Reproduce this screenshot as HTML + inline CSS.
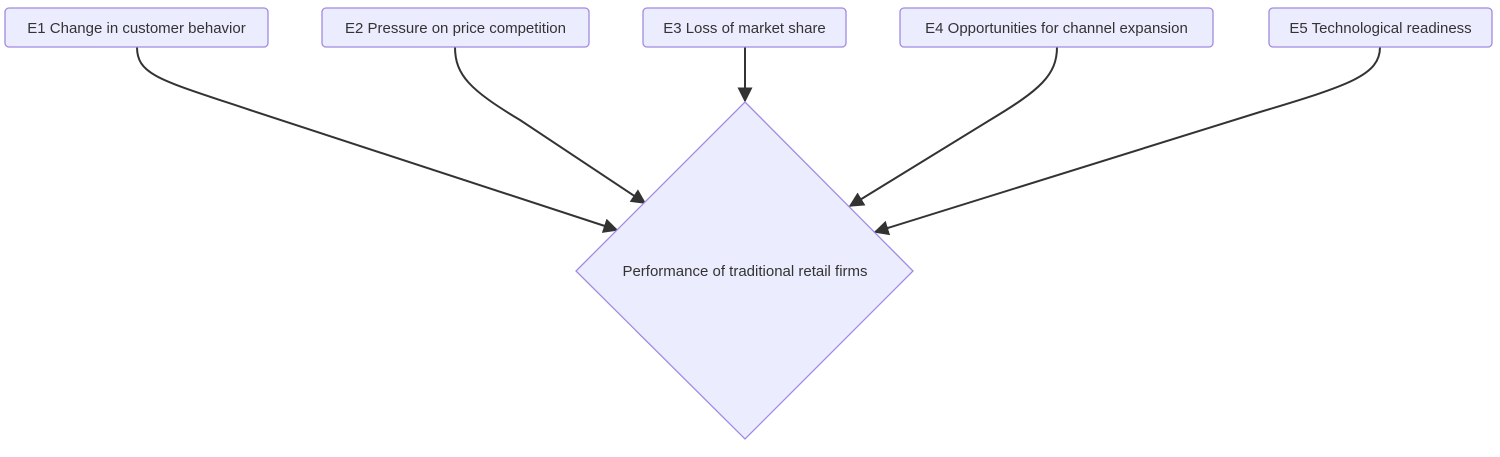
<!DOCTYPE html>
<html><head><meta charset="utf-8"><style>
html,body{margin:0;padding:0;background:#fff;width:1500px;height:457px;overflow:hidden}
svg{display:block}
text{font-family:"Liberation Sans",sans-serif;font-size:15px;fill:#333}
.n{fill:#ECECFF;stroke:#A08BE0;stroke-width:1.3}
.e{fill:none;stroke:#333;stroke-width:2}
</style></head><body>
<svg width="1500" height="457" viewBox="0 0 1500 457" xmlns="http://www.w3.org/2000/svg">
<defs><marker id="a" viewBox="0 0 10 10" refX="9" refY="5" markerWidth="15" markerHeight="15" markerUnits="userSpaceOnUse" orient="auto"><path d="M0,0 L10,5 L0,10 z" fill="#333"/></marker></defs>
<path class="e" d="M137,47 C137,75 160,80 250,110 L617,230" marker-end="url(#a)"/>
<path class="e" d="M455,47 C455,75 470,90 520,120 L645,203" marker-end="url(#a)"/>
<path class="e" d="M745,47 L745,101" marker-end="url(#a)"/>
<path class="e" d="M1057,47 C1057,75 1040,90 990,120 L850,206" marker-end="url(#a)"/>
<path class="e" d="M1380,47 C1380,75 1350,85 1260,112 L875,232" marker-end="url(#a)"/>
<rect class="n" x="5" y="8" width="263" height="39" rx="4"/>
<text x="136.5" y="33" text-anchor="middle">E1 Change in customer behavior</text>
<rect class="n" x="322" y="8" width="267" height="39" rx="4"/>
<text x="455.5" y="33" text-anchor="middle">E2 Pressure on price competition</text>
<rect class="n" x="643" y="8" width="203" height="39" rx="4"/>
<text x="744.5" y="33" text-anchor="middle">E3 Loss of market share</text>
<rect class="n" x="900" y="8" width="313" height="39" rx="4"/>
<text x="1056.5" y="33" text-anchor="middle">E4 Opportunities for channel expansion</text>
<rect class="n" x="1269" y="8" width="223" height="39" rx="4"/>
<text x="1380.5" y="33" text-anchor="middle">E5 Technological readiness</text>
<polygon class="n" points="745,102 913,271 745,439 576,271"/>
<text x="745" y="276" text-anchor="middle">Performance of traditional retail firms</text>
</svg>
</body></html>
